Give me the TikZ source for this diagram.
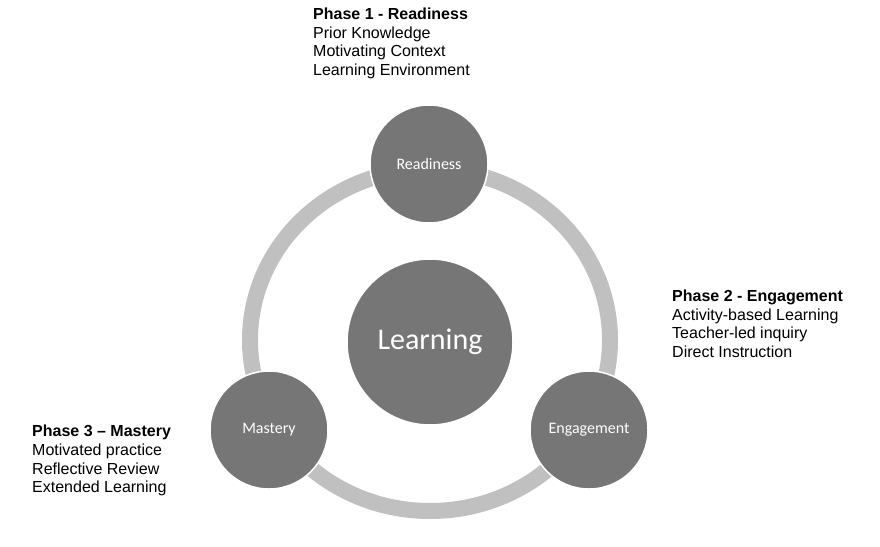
\documentclass[tikz,border=0pt]{standalone}
\usepackage{fontspec}
\setmainfont{Liberation Sans}
\newfontfamily\calibri{Carlito}
\usepackage{tikz}
\usetikzlibrary{arrows.meta, calc, positioning}

\definecolor{ringgray}{RGB}{192,192,192}
\definecolor{discgray}{RGB}{118,118,118}

\begin{document}
\begin{tikzpicture}[x=1pt, y=-1pt,
    disc/.style={circle, fill=discgray, draw=white, line width=1.5pt,
                 inner sep=0pt, text=white},
    phasedisc/.style={disc, minimum size=118pt, font=\calibri\fontsize{16}{19}\selectfont},
    phasetext/.style={anchor=north west, inner sep=0pt, align=left,
                      font=\fontsize{16}{18.6}\selectfont}]

        \useasboundingbox (0, 0) rectangle (880, 546);

        % ring behind the discs
        \coordinate (hub) at (430, 340);
        \draw[ringgray, line width=16pt] (hub) ellipse [x radius=180pt, y radius=171pt];

        \node[disc, minimum size=166pt, font=\calibri\fontsize{30}{35}\selectfont] (learn) at (430, 342) {Learning};

        \node[phasedisc] (ready) at (429, 164) {Readiness};
        \node[phasedisc] (engage) at (589, 430) {Engagement};
        \node[phasedisc] (master) at (269, 430) {Mastery};

        % Phase descriptions
        \node[phasetext] (readytxt) at (313, 8) {\textbf{Phase 1 - Readiness}\\Prior Knowledge\\Motivating Context\\Learning Environment};
        \node[phasetext] (engagetxt) at (672, 290) {\textbf{Phase 2 - Engagement}\\Activity-based Learning\\Teacher-led inquiry\\Direct Instruction};
        \node[phasetext] (mastertxt) at (32, 425) {\textbf{Phase 3 -- Mastery}\\Motivated practice\\Reflective Review\\Extended Learning};

    \end{tikzpicture}
\end{document}
